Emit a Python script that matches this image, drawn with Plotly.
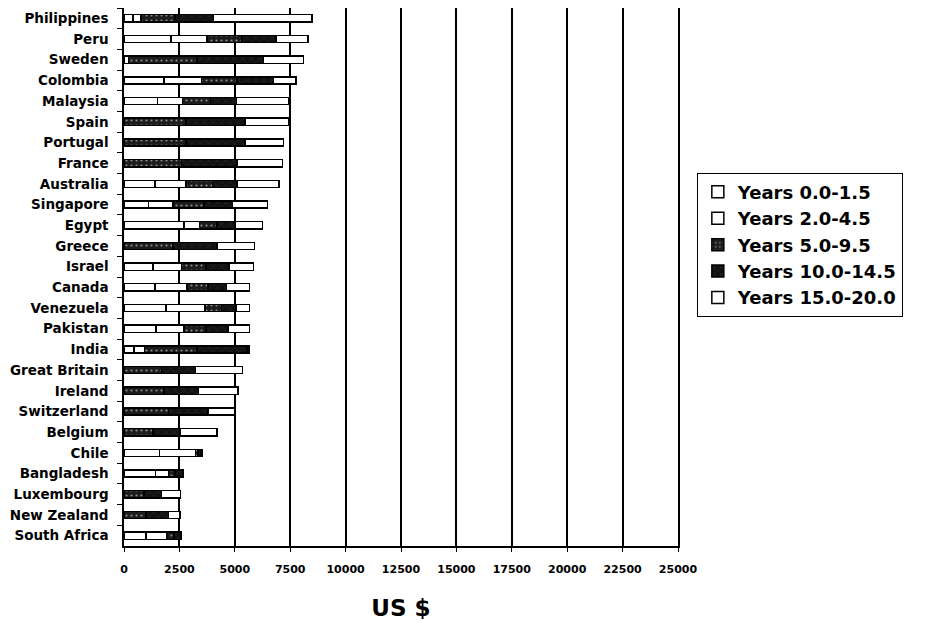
import plotly.graph_objects as go

countries = ["Philippines", "Peru", "Sweden", "Colombia", "Malaysia", "Spain", "Portugal",
             "France", "Australia", "Singapore", "Egypt", "Greece", "Israel", "Canada",
             "Venezuela", "Pakistan", "India", "Great Britain", "Ireland", "Switzerland",
             "Belgium", "Chile", "Bangladesh", "Luxembourg", "New Zealand", "South Africa"]

years_0_15 = [400, 2120, 0, 1800, 1510, 0, 0, 0, 1400, 1100, 2700, 0, 1300, 1400,
              1900, 1450, 460, 0, 0, 0, 0, 1600, 1430, 0, 0, 1000]
years_2_45 = [370, 1620, 200, 1700, 1120, 0, 0, 0, 1400, 1100, 700, 0, 1300, 1450,
              1750, 1250, 460, 0, 0, 0, 0, 1630, 570, 0, 0, 950]
years_5_95 = [1530, 1560, 3100, 1600, 1270, 2800, 2800, 2600, 1200, 1400, 800, 2200, 1100, 950,
              750, 1000, 2380, 1700, 1800, 2000, 1300, 120, 300, 900, 1000, 300]
years_10_145 = [1740, 1550, 3000, 1650, 1180, 2650, 2650, 2500, 1100, 1300, 800, 2000, 1030, 830,
                650, 1000, 2250, 1530, 1570, 1800, 1220, 130, 330, 800, 1000, 300]
years_15_20 = [4450, 1450, 1800, 1010, 2370, 2000, 1750, 2050, 1900, 1580, 1250, 1700, 1120, 1040,
               620, 970, 100, 2120, 1780, 1220, 1680, 50, 30, 850, 530, 30]

series_names = ["Years 0.0-1.5", "Years 2.0-4.5", "Years 5.0-9.5", "Years 10.0-14.5", "Years 15.0-20.0"]
series_values = [years_0_15, years_2_45, years_5_95, years_10_145, years_15_20]
x_ticks = [0, 2500, 5000, 7500, 10000, 12500, 15000, 17500, 20000, 22500, 25000]

styles = [
    dict(color="white", pattern=dict(shape="")),
    dict(color="white", pattern=dict(shape="")),
    dict(color="#1c1c1c", pattern=dict(shape=".", fgcolor="white", size=5, solidity=0.15)),
    dict(color="#111111", pattern=dict(shape="x", fgcolor="#777777", size=6, solidity=0.1)),
    dict(color="white", pattern=dict(shape="")),
]

FONT = "DejaVu Sans"

fig = go.Figure()
for name, vals, st in zip(series_names, series_values, styles):
    fig.add_trace(go.Bar(
        y=countries, x=vals, name=name, orientation="h",
        marker=dict(color=st["color"], pattern=st["pattern"],
                    line=dict(color="black", width=1.5)),
    ))

# page body adds an 8px offset, so the figure is sized 8px smaller
fig.update_layout(
    width=933, height=615,
    barmode="stack", bargap=0.65,
    paper_bgcolor="white", plot_bgcolor="white",
    margin=dict(l=116, r=263, t=0, b=77, autoexpand=False),
    font=dict(family=FONT, color="black"),
    showlegend=True,
    legend=dict(
        x=1.034, y=0.694, xanchor="left", yanchor="top",
        font=dict(family=FONT, size=18, color="black", weight="bold"),
        bordercolor="black", borderwidth=1, bgcolor="white",
        traceorder="normal", itemwidth=30,
    ),
)

fig.update_xaxes(
    range=[0, 25000], tickvals=x_ticks, ticktext=[str(v) for v in x_ticks],
    showgrid=True, gridcolor="black", gridwidth=1.5,
    showline=True, linecolor="black", linewidth=1.5, mirror=True,
    ticks="outside", ticklen=4, tickcolor="black",
    tickfont=dict(family=FONT, size=11, color="black", weight="bold"),
    ticklabelstandoff=8, zeroline=False, automargin=False,
    title=dict(text="US $", font=dict(family=FONT, size=23, color="black", weight="bold"),
               standoff=25),
)

fig.update_yaxes(
    categoryorder="array", categoryarray=countries, autorange="reversed",
    showgrid=False, showline=True, linecolor="black", linewidth=1.5, mirror=True,
    ticks="outside", ticklen=5, tickcolor="black", tickson="boundaries",
    tickfont=dict(family=FONT, size=13.5, color="black", weight="bold"),
    ticklabelstandoff=11, automargin=False,
)

fig.write_html("out.html")
